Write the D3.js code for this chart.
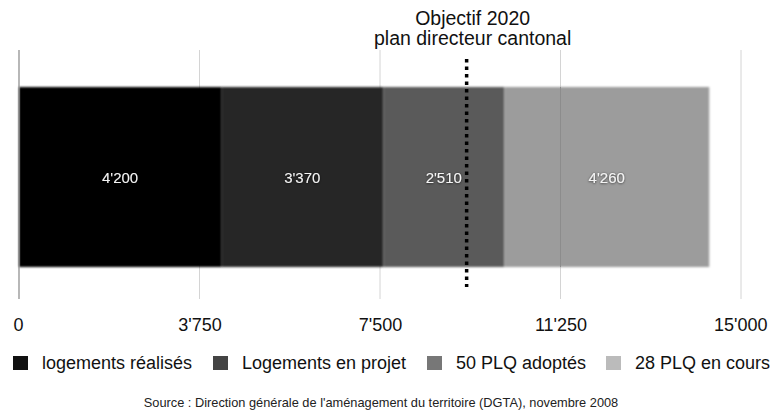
<!DOCTYPE html>
<html><head><meta charset="utf-8">
<script src="https://cdn.jsdelivr.net/npm/d3@7"></script>
<style>
body{margin:0;background:#fff;}
svg{display:block;font-family:"Liberation Sans",Arial,sans-serif;}
</style></head><body>
<svg id="c" width="774" height="414"></svg>
<script>
const categories = ["logements réalisés", "Logements en projet", "50 PLQ adoptés", "28 PLQ en cours"];
const values = [4200, 3370, 2510, 4260];
const barColors = ["#000000", "#282828", "#5a5a5a", "#9c9c9c"];
const legendColors = ["#111111", "#444444", "#777777", "#bbbbbb"];
const tickValues = [0, 3750, 7500, 11250, 15000];
const tickLabels = ["0", "3'750", "7'500", "11'250", "15'000"];
const target = 9300;
const targetLabel = ["Objectif 2020", "plan directeur cantonal"];
const source = "Source : Direction générale de l'aménagement du territoire (DGTA), novembre 2008";

const fmt = v => d3.format(",")(v).replace(/,/g, "'");
const svg = d3.select("#c");
const x = d3.scaleLinear().domain([0, 15000]).range([19, 741]);
const gridTop = 50, gridBottom = 299, barTop = 87, barBottom = 267;

const defs = svg.append("defs");
const f = defs.append("filter").attr("id", "soft").attr("x", "-5%").attr("y", "-5%").attr("width", "110%").attr("height", "110%");
f.append("feGaussianBlur").attr("stdDeviation", 0.8);
const ts = defs.append("filter").attr("id", "tshadow").attr("x", "-20%").attr("y", "-40%").attr("width", "140%").attr("height", "180%");
ts.append("feDropShadow").attr("dx", 0).attr("dy", 0.5).attr("stdDeviation", 1.2).attr("flood-color", "#000").attr("flood-opacity", 0.7);

// vertical grid lines
svg.append("g").selectAll("line").data(tickValues.slice(1)).join("line")
  .attr("x1", d => x(d)).attr("x2", d => x(d))
  .attr("y1", gridTop).attr("y2", gridBottom)
  .attr("stroke", "#d4d4d4").attr("stroke-width", 1);

// stacked segments
const starts = d3.cumsum([0, ...values.slice(0, -1)]);
const segs = values.map((v, i) => ({v, s: starts[i], c: barColors[i]}));
svg.append("g").attr("filter", "url(#soft)").selectAll("rect").data(segs).join("rect")
  .attr("x", d => x(d.s)).attr("width", d => x(d.s + d.v) - x(d.s))
  .attr("y", barTop).attr("height", barBottom - barTop)
  .attr("fill", d => d.c);

// gridline visible through the light segment
svg.append("g").selectAll("line").data(tickValues.slice(1).filter(t => t > starts[3] && t < starts[3] + values[3])).join("line")
  .attr("x1", d => x(d)).attr("x2", d => x(d))
  .attr("y1", barTop).attr("y2", barBottom)
  .attr("stroke", "#8c8c8c").attr("stroke-width", 1);

// zero axis
svg.append("line").attr("x1", x(0)).attr("x2", x(0)).attr("y1", gridTop).attr("y2", gridBottom)
  .attr("stroke", "#888").attr("stroke-width", 1.2);

// value labels
svg.append("g").selectAll("text").data(segs).join("text")
  .attr("x", d => x(d.s + d.v / 2)).attr("y", 183)
  .attr("text-anchor", "middle").attr("fill", "#f4f4f4").attr("font-size", 15)
  .attr("filter", "url(#tshadow)")
  .text(d => fmt(d.v));

// target line
svg.append("line").attr("x1", x(target)).attr("x2", x(target)).attr("y1", 59).attr("y2", 287)
  .attr("stroke", "#000").attr("stroke-width", 3.5).attr("stroke-dasharray", "3.5,4");
svg.append("g").selectAll("text").data(targetLabel).join("text")
  .attr("x", x(target) + 6).attr("y", (d, i) => 25 + i * 20)
  .attr("text-anchor", "middle").attr("font-size", 19.5).attr("fill", "#111")
  .text(d => d);

// axis labels
const axis = d3.axisBottom(x).tickValues(tickValues).tickFormat((d, i) => tickLabels[i]).tickSize(0);
const ag = svg.append("g").attr("transform", `translate(0,${gridBottom})`).call(axis);
ag.select(".domain").remove();
ag.selectAll("text").attr("font-size", 18).attr("fill", "#111").attr("dy", 0).attr("y", 32)
  .attr("font-family", "Liberation Sans, Arial, sans-serif");
ag.selectAll(".tick text").attr("text-anchor", (d, i) => i === 0 ? "start" : (i === tickValues.length - 1 ? "end" : "middle"))
  .attr("dx", (d, i) => i === 0 ? -6 : (i === tickValues.length - 1 ? 26 : 0));

// legend
const legendX = [13, 213, 427, 606];
const lg = svg.append("g").selectAll("g").data(categories).join("g")
  .attr("transform", (d, i) => `translate(${legendX[i]},363)`);
lg.append("rect").attr("x", 0).attr("y", -7).attr("width", 15).attr("height", 14)
  .attr("fill", (d, i) => legendColors[i]);
lg.append("text").attr("x", 29).attr("y", 6).attr("font-size", 18).attr("fill", "#111").text(d => d);

// source
svg.append("text").attr("x", 381).attr("y", 407).attr("text-anchor", "middle")
  .attr("font-size", 12.8).attr("fill", "#222").text(source);
</script>
</body></html>
